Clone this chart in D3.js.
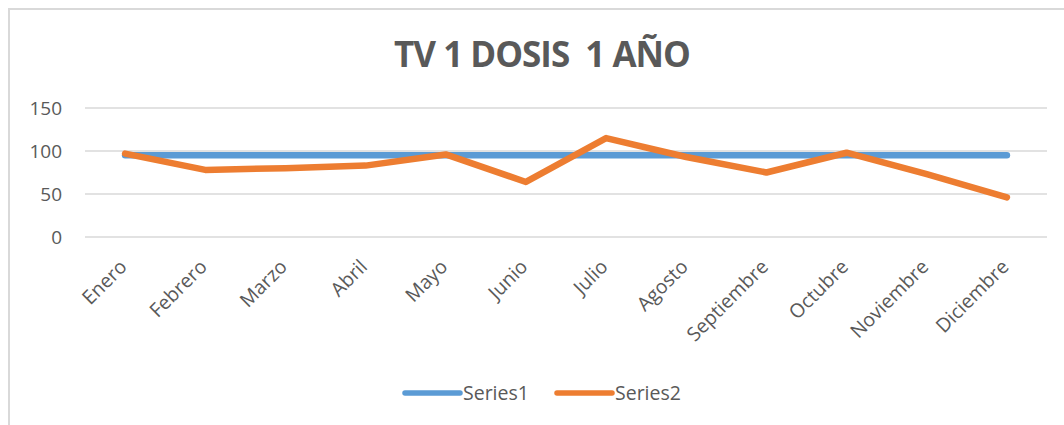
<!DOCTYPE html>
<html>
<head>
<meta charset="utf-8">
<script src="https://cdn.jsdelivr.net/npm/d3@7"></script>
<style>
  body { margin: 0; background: #fff; }
  svg { display: block; }
  text { fill: #595959; font-family: "Open Sans", sans-serif; }
</style>
</head>
<body>
<div id="svg-container"></div>
<script>
// data
const title = "TV 1 DOSIS  1 AÑO";
const months = ["Enero", "Febrero", "Marzo", "Abril", "Mayo", "Junio", "Julio",
  "Agosto", "Septiembre", "Octubre", "Noviembre", "Diciembre"];
const series1 = [95, 95, 95, 95, 95, 95, 95, 95, 95, 95, 95, 95];
const series2 = [97, 78, 80, 83, 96, 64, 115, 93, 75, 98, 73, 46];
const seriesNames = ["Series1", "Series2"];
const yTicks = [0, 50, 100, 150];

const width = 1064, height = 425;
const margin = { top: 108, right: 17, bottom: 188, left: 85 };
const colors = ["#5B9BD5", "#ED7D31"];

const svg = d3.select("#svg-container").append("svg")
  .attr("width", width).attr("height", height);

// chart frame (cropped on right/bottom)
svg.append("rect")
  .attr("x", 9).attr("y", 9)
  .attr("width", width + 20).attr("height", height + 20)
  .attr("fill", "none").attr("stroke", "#d9d9d9").attr("stroke-width", 2);

// scales
const xScale = d3.scaleBand()
  .domain(months)
  .range([margin.left, width - margin.right]);

const yScale = d3.scaleLinear()
  .domain([0, 150])
  .range([height - margin.bottom, margin.top]);

// grid
svg.append("g")
  .selectAll("line")
  .data(yTicks)
  .join("line")
  .attr("x1", margin.left).attr("x2", width - margin.right)
  .attr("y1", d => yScale(d)).attr("y2", d => yScale(d))
  .attr("stroke", "#d9d9d9").attr("stroke-width", 1.5);

// y labels
const yAxis = d3.axisLeft(yScale).tickValues(yTicks).tickSize(0).tickPadding(23);
svg.append("g")
  .attr("transform", `translate(${margin.left},0)`)
  .call(yAxis)
  .call(g => g.select(".domain").remove())
  .selectAll("text")
  .attr("font-size", 19).attr("font-family", null).attr("dy", "0.35em");

// x labels
const cx = d => xScale(d) + xScale.bandwidth() / 2;
svg.append("g")
  .selectAll("text")
  .data(months)
  .join("text")
  .attr("transform", d => `translate(${cx(d) + 3},${yScale(0) + 31}) rotate(-45)`)
  .attr("text-anchor", "end")
  .attr("font-size", 19.5)
  .text(d => d);

// lines
const line = d3.line()
  .x((d, i) => cx(months[i]))
  .y(d => yScale(d));

[series1, series2].forEach((s, i) => {
  svg.append("path")
    .datum(s)
    .attr("d", line)
    .attr("fill", "none")
    .attr("stroke", colors[i])
    .attr("stroke-width", 6.5)
    .attr("stroke-linecap", "round")
    .attr("stroke-linejoin", "round");
});

// title
svg.append("text")
  .attr("x", 542).attr("y", 67)
  .attr("text-anchor", "middle")
  .attr("font-size", 35)
  .attr("font-weight", "bold")
  .attr("letter-spacing", -1)
  .style("white-space", "pre")
  .text(title);

// legend
const legend = svg.append("g");
const legendX = [405, 557];
seriesNames.forEach((name, i) => {
  legend.append("line")
    .attr("x1", legendX[i]).attr("x2", legendX[i] + 55)
    .attr("y1", 393).attr("y2", 393)
    .attr("stroke", colors[i]).attr("stroke-width", 5.5)
    .attr("stroke-linecap", "round");
  legend.append("text")
    .attr("x", legendX[i] + 58).attr("y", 400)
    .attr("font-size", 19.5)
    .text(name);
});
</script>
</body>
</html>
